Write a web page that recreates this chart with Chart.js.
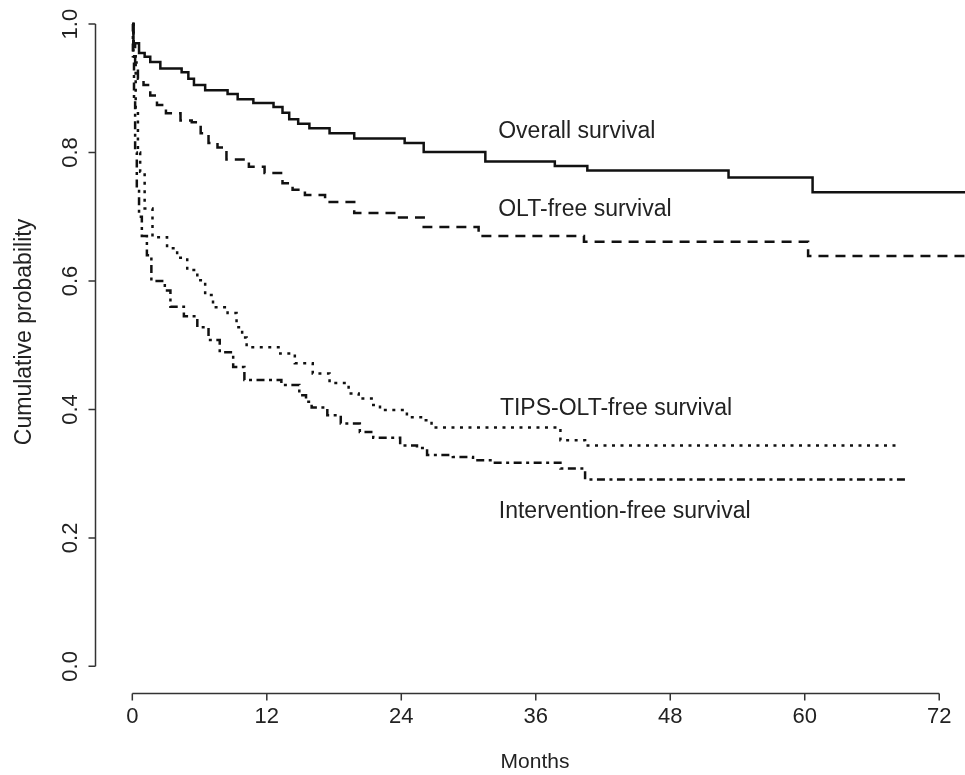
<!DOCTYPE html>
<html>
<head>
<meta charset="utf-8">
<script src="https://cdn.jsdelivr.net/npm/chart.js@4.4.0/dist/chart.umd.min.js"></script>
<style>
  html, body { margin: 0; padding: 0; background: #fff; }
  #wrap { width: 965px; height: 775px; position: relative; }
</style>
</head>
<body>
<div id="wrap"><canvas id="kmChart"></canvas></div>
<script>
// axis ticks
const xTicks = [0, 12, 24, 36, 48, 60, 72];
const yTicks = [0, 0.2, 0.4, 0.6, 0.8, 1.0];
const yTickLabels = ['0.0', '0.2', '0.4', '0.6', '0.8', '1.0'];

// Overall survival (months, probability)
const overallT = [0, 0.1, 0.6, 1.1, 1.6, 2.5, 4.4, 5.0, 5.5, 6.5, 8.5, 9.4, 10.8, 12.6, 13.4, 14.0, 14.8, 15.8, 17.6, 19.8, 24.3, 26.0, 31.5, 37.7, 40.6, 53.2, 60.7, 74.3];
const overallS = [1.0, 0.97, 0.955, 0.949, 0.941, 0.931, 0.925, 0.915, 0.905, 0.897, 0.891, 0.883, 0.877, 0.871, 0.862, 0.852, 0.845, 0.838, 0.830, 0.822, 0.815, 0.801, 0.786, 0.779, 0.772, 0.761, 0.738, 0.738];

// OLT-free survival
const oltT = [0, 0.1, 0.25, 0.5, 1.0, 1.6, 2.2, 3.0, 4.3, 5.3, 6.1, 6.8, 7.6, 8.4, 10.4, 11.8, 13.4, 14.3, 15.4, 17.2, 19.8, 23.8, 26.0, 30.9, 40.3, 60.3, 74.3];
const oltS = [1.0, 0.97, 0.94, 0.915, 0.905, 0.889, 0.874, 0.861, 0.85, 0.847, 0.830, 0.815, 0.808, 0.789, 0.778, 0.768, 0.752, 0.742, 0.734, 0.723, 0.706, 0.699, 0.684, 0.670, 0.661, 0.639, 0.639];

// TIPS-OLT-free survival
const tipsT = [0, 0.1, 0.3, 0.5, 0.7, 1.1, 1.8, 3.1, 4.0, 4.9, 5.8, 6.5, 7.2, 8.5, 9.3, 9.8, 10.2, 13.2, 14.5, 16.1, 17.6, 19.3, 20.2, 21.5, 22.1, 24.5, 25.9, 26.7, 38.2, 40.4, 68.5];
const tipsS = [1.0, 0.95, 0.87, 0.80, 0.77, 0.713, 0.668, 0.651, 0.636, 0.617, 0.601, 0.578, 0.559, 0.55, 0.528, 0.512, 0.497, 0.487, 0.472, 0.456, 0.441, 0.425, 0.417, 0.407, 0.399, 0.388, 0.383, 0.372, 0.352, 0.344, 0.344];

// Intervention-free survival
const interT = [0, 0.05, 0.15, 0.25, 0.4, 0.6, 0.85, 1.3, 1.7, 2.9, 3.4, 4.6, 5.8, 6.8, 7.8, 9.0, 10.0, 13.3, 14.9, 15.5, 16.0, 17.4, 18.6, 20.3, 21.5, 23.9, 25.4, 26.3, 28.6, 30.4, 32.2, 38.2, 40.4, 69.3];
const interS = [1.0, 0.95, 0.88, 0.80, 0.74, 0.70, 0.67, 0.64, 0.60, 0.585, 0.56, 0.545, 0.528, 0.508, 0.489, 0.466, 0.446, 0.438, 0.422, 0.412, 0.403, 0.391, 0.378, 0.365, 0.356, 0.344, 0.340, 0.329, 0.326, 0.321, 0.317, 0.308, 0.291, 0.291];

// curve labels, anchored in data units (left edge, baseline)
const labelText = ['Overall survival', 'OLT-free survival', 'TIPS-OLT-free survival', 'Intervention-free survival'];
const labelAt = [[32.65, 0.822], [32.65, 0.701], [32.8, 0.391], [32.7, 0.2305]];

const FONT = '"Liberation Sans", Arial, sans-serif';

function pts(t, s) {
    return t.map((v, i) => ({ x: v, y: s[i] }));
}

function serie(label, t, s, dash) {
    return {
        label: label,
        data: pts(t, s),
        borderColor: '#111',
        borderWidth: 2.5,
        borderDash: dash,
        pointRadius: 0,
        stepped: true,
        fill: false
    };
}

// R-like axes: line only across the tick range, ticks outside
const rAxes = {
    id: 'rAxes',
    afterDraw(chart) {
        const ctx = chart.ctx;
        const xs = chart.scales.x, ys = chart.scales.y;
        const bottom = chart.chartArea.bottom + 0.5;
        const left = chart.chartArea.left + 0.5;
        ctx.save();
        ctx.strokeStyle = '#333';
        ctx.lineWidth = 1.5;
        ctx.beginPath();
        ctx.moveTo(xs.getPixelForValue(xTicks[0]), bottom);
        ctx.lineTo(xs.getPixelForValue(xTicks[xTicks.length - 1]), bottom);
        xTicks.forEach(t => {
            const px = xs.getPixelForValue(t);
            ctx.moveTo(px, bottom);
            ctx.lineTo(px, bottom + 7);
        });
        ctx.moveTo(left, ys.getPixelForValue(yTicks[0]));
        ctx.lineTo(left, ys.getPixelForValue(yTicks[yTicks.length - 1]));
        yTicks.forEach(t => {
            const py = ys.getPixelForValue(t);
            ctx.moveTo(left, py);
            ctx.lineTo(left - 7, py);
        });
        ctx.stroke();

        ctx.fillStyle = '#222';
        ctx.font = '22px ' + FONT;
        ctx.textAlign = 'center';
        ctx.textBaseline = 'middle';
        xTicks.forEach(t => {
            ctx.fillText(String(t), xs.getPixelForValue(t), bottom + 23);
        });
        yTicks.forEach((t, i) => {
            ctx.save();
            ctx.translate(left - 25, ys.getPixelForValue(t));
            ctx.rotate(-Math.PI / 2);
            ctx.fillText(yTickLabels[i], 0, 0);
            ctx.restore();
        });

        ctx.font = '21px ' + FONT;
        ctx.fillText('Months', 535, 762);
        ctx.save();
        ctx.translate(25, 332);
        ctx.rotate(-Math.PI / 2);
        ctx.font = '23px ' + FONT;
        ctx.fillText('Cumulative probability', 0, 0);
        ctx.restore();

        ctx.font = '23px ' + FONT;
        ctx.textAlign = 'left';
        ctx.textBaseline = 'alphabetic';
        labelText.forEach((txt, i) => {
            ctx.fillText(txt, xs.getPixelForValue(labelAt[i][0]), ys.getPixelForValue(labelAt[i][1]));
        });
        ctx.restore();
    }
};

new Chart(document.getElementById('kmChart'), {
    type: 'line',
    data: {
        datasets: [
            serie('Overall survival', overallT, overallS, []),
            serie('OLT-free survival', oltT, oltS, [10, 7]),
            serie('TIPS-OLT-free survival', tipsT, tipsS, [3, 5.5]),
            serie('Intervention-free survival', interT, interS, [8, 4.5, 3, 4.5])
        ]
    },
    options: {
        responsive: true,
        maintainAspectRatio: false,
        animation: false,
        layout: { padding: { left: 95, right: 0, top: 0, bottom: 82 } },
        plugins: {
            legend: { display: false },
            tooltip: { enabled: false }
        },
        scales: {
            x: { type: 'linear', display: false, min: -3.33, max: 74.3 },
            y: { type: 'linear', display: false, min: -0.0415, max: 1.0375 }
        }
    },
    plugins: [rAxes]
});
</script>
</body>
</html>
